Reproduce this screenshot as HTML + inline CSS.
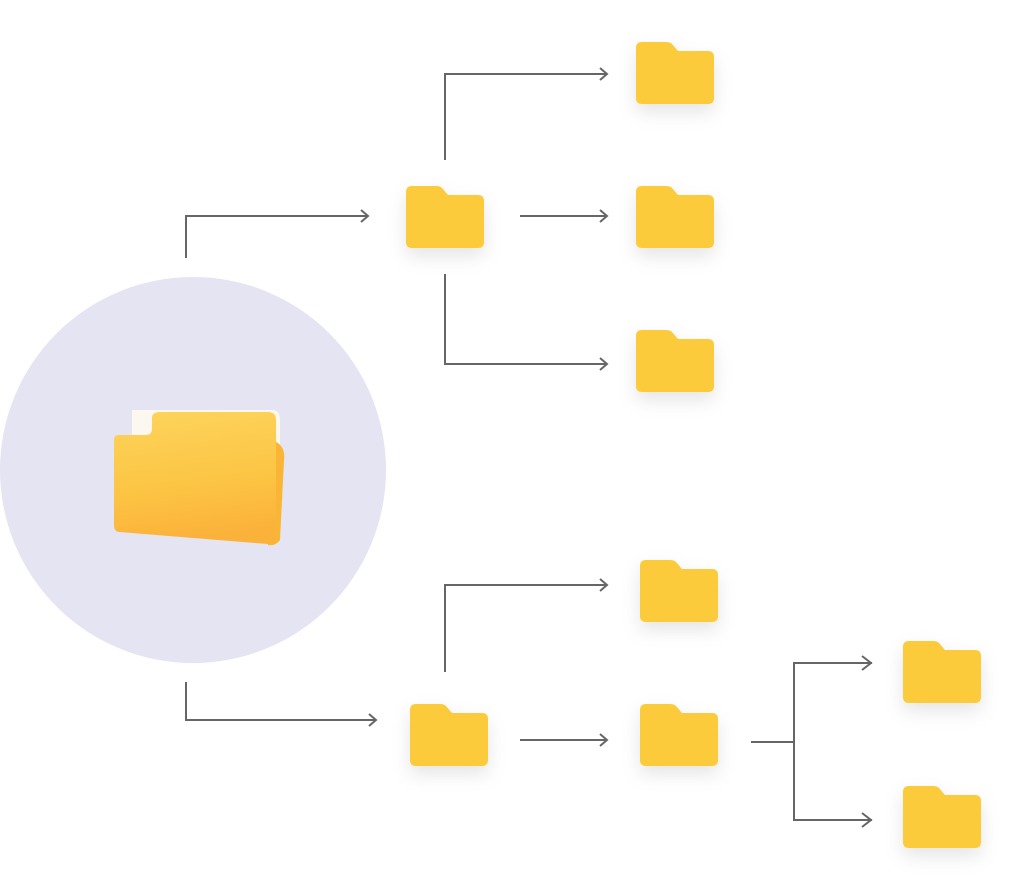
<!DOCTYPE html>
<html><head><meta charset="utf-8"><style>html,body{margin:0;padding:0;background:#fff;width:1024px;height:888px;overflow:hidden}</style></head>
<body>
<svg width="1024" height="888" viewBox="0 0 1024 888" xmlns="http://www.w3.org/2000/svg">
<defs>
<filter id="sh" x="-50%" y="-50%" width="200%" height="220%"><feDropShadow dx="0" dy="8" stdDeviation="9" flood-color="#000" flood-opacity="0.1"/></filter>
<g id="f"><path d="M6 0 H30 Q34 0 36 2 L42 9 H72 Q78 9 78 15 V56 Q78 62 72 62 H6 Q0 62 0 56 V6 Q0 0 6 0 Z" fill="#fccb3b" filter="url(#sh)"/></g>
<marker id="a" markerWidth="12" markerHeight="14" refX="10" refY="7" orient="auto" markerUnits="userSpaceOnUse"><path d="M3 1 L10 7 L3 13" fill="none" stroke="#666" stroke-width="2"/></marker>
<linearGradient id="bg" x1="0" y1="0" x2="0.15" y2="1"><stop offset="0" stop-color="#fdd45c"/><stop offset="0.6" stop-color="#fcc544"/><stop offset="1" stop-color="#fbb23a"/></linearGradient>
</defs>
<circle cx="193" cy="470" r="193" fill="#e4e4f2"/>
<path d="M132 410 H272 Q280 410 280 420 V520 L132 525 Z" fill="#fdf8ef"/>
<path d="M272 440 Q286 445 284 460 L280 540 Q276 546 268 545 Z" fill="#fbb534"/>
<path d="M118 435 H146 Q152 435 152 428 V418 Q152 412 160 412 H268 Q276 412 276 420 V538 Q276 544 268 544 L120 532 Q114 532 114 525 V440 Q114 435 118 435 Z" fill="url(#bg)"/>
<g fill="none" stroke="#666" stroke-width="2">
<path d="M186 258 V216 H368" marker-end="url(#a)"/>
<path d="M445 160 V74 H607" marker-end="url(#a)"/>
<path d="M520 216 H607" marker-end="url(#a)"/>
<path d="M445 274 V364 H607" marker-end="url(#a)"/>
<path d="M186 682 V720 H376" marker-end="url(#a)"/>
<path d="M445 672 V585 H607" marker-end="url(#a)"/>
<path d="M520 740 H607" marker-end="url(#a)"/>
<path d="M751 742 H794"/>
<path d="M872 663 H794 V820 H872" />
<path d="M862 656 L871 663 L862 670 M862 813 L871 820 L862 827"/>
</g>
<use href="#f" x="406" y="186"/>
<use href="#f" x="636" y="42"/>
<use href="#f" x="636" y="186"/>
<use href="#f" x="636" y="330"/>
<use href="#f" x="410" y="704"/>
<use href="#f" x="640" y="560"/>
<use href="#f" x="640" y="704"/>
<use href="#f" x="903" y="641"/>
<use href="#f" x="903" y="786"/>
</svg>
</body></html>
